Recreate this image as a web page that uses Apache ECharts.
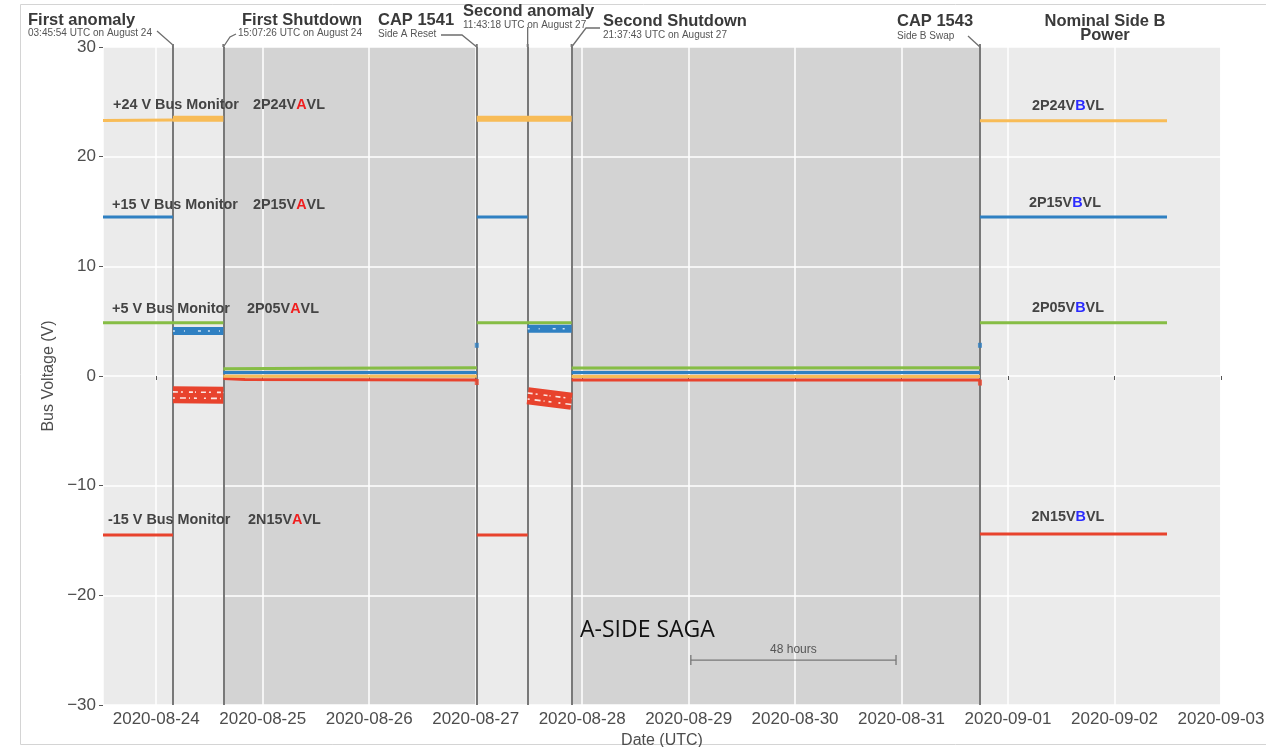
<!DOCTYPE html>
<html><head><meta charset="utf-8">
<script src="https://cdn.jsdelivr.net/npm/echarts@6/dist/echarts.min.js"></script>
<style>html,body{margin:0;padding:0;background:#fff}#c{width:1266px;height:747px}</style>
</head><body><div id="c"></div>
<script>
// ---------- data ----------
const xRange = ['2020-08-23T12:00:00Z', '2020-09-03T00:00:00Z'];
const yRange = [-30, 30];
const eventTimes = ['2020-08-24T03:45:54Z','2020-08-24T15:07:26Z','2020-08-27T00:15:00Z','2020-08-27T11:43:18Z','2020-08-27T21:37:43Z','2020-08-31T17:40:00Z'];
const eventTitles = ['First anomaly','First Shutdown','CAP 1541','Second anomaly','Second Shutdown','CAP 1543'];
const eventSubtitles = ['03:45:54 UTC on August 24','15:07:26 UTC on August 24','Side A Reset','11:43:18 UTC on August 27','21:37:43 UTC on August 27','Side B Swap'];
const dataStart = '2020-08-23T12:00:00Z';
const dataEnd = '2020-09-02T11:50:00Z';
const bracketTimes = ['2020-08-29T00:30:00Z','2020-08-30T22:45:00Z'];
const bracketValue = -25.9;

const ms = s => Date.parse(s);
const [A1,S1,R1,A2,S2,R2] = eventTimes.map(ms);
const T0 = ms(dataStart), TE = ms(dataEnd);

// +24 V bus (2P24VxVL)
const p24Line = [[[T0,23.3],[A1,23.35]], [[S1,-0.02],[R1,-0.02]], [[S2,-0.04],[R2,-0.04]], [[R2,23.28],[TE,23.28]]];
const p24Band = [[[A1,23.45],[S1,23.45]], [[R1,23.45],[S2,23.45]]];
// +15 V bus (2P15VxVL)
const p15Line = [[[T0,14.5],[A1,14.5]], [[S1,0.32],[R1,0.32]], [[R1,14.5],[A2,14.5]], [[S2,0.32],[R2,0.32]], [[R2,14.5],[TE,14.5]]];
const p15Band = [[[A1,4.1],[S1,4.1]], [[A2,4.3],[S2,4.3]]];
const p15Spikes = [[R1,2.8],[R2,2.8]];
// +5 V bus (2P05VxVL)
const p05Line = [[[T0,4.85],[S1,4.85]], [[S1,0.65],[ms('2020-08-25T12:00:00Z'),0.7],[R1,0.75]], [[R1,4.85],[S2,4.85]], [[S2,0.72],[R2,0.75]], [[R2,4.86],[TE,4.86]]];
// -15 V bus (2N15VxVL)
const n15Line = [[[T0,-14.5],[A1,-14.5]], [[S1,-0.22],[ms('2020-08-24T20:00:00Z'),-0.33],[R1,-0.36]], [[R1,-14.5],[A2,-14.5]], [[S2,-0.36],[R2,-0.36]], [[R2,-14.4],[TE,-14.4]]];
const n15Band = [[[A1,-1.7],[S1,-1.75]], [[A2,-1.8],[S2,-2.3]]];
const n15Spikes = [[R1,-0.55],[R2,-0.6]];

// ---------- chart ----------
const colors = {p24:'#f8bc57', p15:'#2f80c2', p05:'#86bd45', n15:'#e8432d'};
const joinSegs = segs => segs.flatMap((s,i) => i ? [[s[0][0],'-'], ...s] : s);
const lineSeries = (data, color, width, z, extra) => Object.assign({
  type:'line', data: joinSegs(data), showSymbol:false, symbol:'none', silent:true, z: z||5,
  lineStyle:{color, width, cap:'butt'}, itemStyle:{color}, connectNulls:false, animation:false
}, extra||{});

const chart = echarts.init(document.getElementById('c'), null, {renderer:'canvas'});
const FONT = 'Liberation Sans';
const option = {
  animation:false,
  useUTC:true,
  backgroundColor:'#ffffff',
  grid:{left:103, right:45, top:47, bottom:42, show:true, backgroundColor:'#ebebeb', borderWidth:0, containLabel:false, outerBoundsMode:'none'},
  xAxis:{
    type:'time', min:ms(xRange[0]), max:ms(xRange[1]), minInterval:864e5, maxInterval:864e5, splitNumber:11, z:2,
    axisLine:{show:false}, axisTick:{show:true, length:4, lineStyle:{color:'#555'}},
    axisLabel:{formatter:'{yyyy}-{MM}-{dd}', color:'#4d4d4d', fontSize:17, fontFamily:FONT, margin:6, hideOverlap:false},
    splitLine:{show:true, lineStyle:{color:'#ffffff', width:1.5}},
    name:'Date (UTC)', nameLocation:'middle', nameGap:26, nameTextStyle:{color:'#4d4d4d', fontSize:16, fontFamily:FONT}
  },
  yAxis:{
    type:'value', min:yRange[0], max:yRange[1], interval:10, z:2,
    axisLine:{show:false}, axisTick:{show:true, length:4, lineStyle:{color:'#555'}},
    axisLabel:{formatter:v => v < 0 ? '\u2212' + Math.abs(v) : String(v), color:'#4d4d4d', fontSize:17, fontFamily:FONT, margin:7},
    splitLine:{show:true, lineStyle:{color:'#ffffff', width:1.5}},
    name:'Bus Voltage (V)', nameLocation:'middle', nameGap:41, nameTextStyle:{color:'#4d4d4d', fontSize:16, fontFamily:FONT}
  },
  series:[
    {type:'line', data:[], z:1, silent:true,
     markArea:{silent:true, itemStyle:{color:'#d3d3d3'}, data:[[{xAxis:S1},{xAxis:R1}],[{xAxis:S2},{xAxis:R2}]]}},
    lineSeries(p05Line, colors.p05, 3),
    lineSeries(p15Line, colors.p15, 3),
    lineSeries(p15Band, colors.p15, 8),
    lineSeries(p15Band, '#bcd8ef', 1.5, 6, {lineStyle:{color:'#cfe2f3', width:1.5, type:[2,9,1,13,3,7]}}),
    lineSeries(n15Line, colors.n15, 3),
    lineSeries(n15Band, colors.n15, 17),
    lineSeries(n15Band.map(s => s.map(p => [p[0], p[1]+0.25])), '#fbe0db', 1.5, 6, {lineStyle:{color:'#fbe6e2', width:1.6, type:[5,3,2,6,4,2,1,5]}}),
    lineSeries(n15Band.map(s => s.map(p => [p[0], p[1]-0.3])), '#fbe0db', 1.5, 6, {lineStyle:{color:'#fbe6e2', width:1.6, type:[2,5,6,3,1,4,3,7]}}),
    lineSeries(p24Line, colors.p24, 3, 6),
    lineSeries(p24Band, colors.p24, 6, 6),
    {type:'scatter', data:p15Spikes, symbol:'rect', symbolSize:[4,5], itemStyle:{color:colors.p15}, z:5, silent:true},
    {type:'scatter', data:n15Spikes, symbol:'rect', symbolSize:[4,6], itemStyle:{color:colors.n15}, z:5, silent:true},
    {type:'line', data:[], z:7, silent:true,
     markLine:{silent:true, symbol:'none', animation:false, label:{show:false},
       lineStyle:{color:'#787878', width:2, type:'solid'},
       data:eventTimes.map(t => ({xAxis:ms(t)}))}}
  ]
};
chart.setOption(option);

// ---------- annotations ----------
const px = (t, v) => chart.convertToPixel({gridIndex:0}, [t, v]);
const ex = eventTimes.map(t => px(ms(t), 0)[0]);
const gridTop = px(ms(xRange[0]), yRange[1])[1];
const g = [];
const txt = (text, x, y, size, weight, fill, align, family, rich) => g.push({
  type:'text', silent:true, z:20,
  style:{text, x, y, fontSize:size, fontWeight:weight||'normal', fontFamily:family||FONT, fill:fill||'#3a3a3a',
         align:align||'left', verticalAlign:'middle', rich:rich}
});
const poly = (pts, color, w) => g.push({type:'polyline', silent:true, z:20, shape:{points:pts}, style:{stroke:color||'#6e6e6e', lineWidth:w||1.3, fill:null}});

g.push({type:'rect', silent:true, z:0, shape:{x:20.5, y:4.5, width:1260, height:740}, style:{stroke:'#d4d4d4', lineWidth:1, fill:null}});

const titleX = [28, 242, 378, 463, 603, 897];
const titleY = [20, 20, 20, 11, 21, 21];
const subX = [28, 238, 378, 463, 603, 897];
const subY = [33, 33, 34, 25, 35, 36];
eventTitles.forEach((t,i) => txt(t, titleX[i], titleY[i], 16.5, 'bold', '#3a3a3a'));
eventSubtitles.forEach((t,i) => txt(t, subX[i], subY[i], 10, 'normal', '#555'));
txt('Nominal Side B', 1105, 21, 16.5, 'bold', '#3a3a3a', 'center');
txt('Power', 1105, 35, 16.5, 'bold', '#3a3a3a', 'center');

poly([[157,31],[ex[0],45],[ex[0],gridTop]]);
poly([[236,34],[230,37],[ex[1],gridTop]]);
poly([[441,35],[462,35],[ex[2],gridTop]]);
poly([[ex[3],27],[ex[3],gridTop]]);
poly([[600,28],[586,28],[ex[4],gridTop]]);
poly([[968,36],[ex[5],gridTop]]);
[0,1,2,3,4,5].forEach(i => poly([[ex[i],gridTop-3],[ex[i],gridTop]], '#787878', 2));

const lblRich = c => ({h:{fill:c, fontSize:14.4, fontWeight:'bold', fontFamily:FONT}});
const LBL = 14.4;
txt('+24 V Bus Monitor', 113, 105, LBL, 'bold', '#444');
txt('2P24V{h|A}VL', 253, 105, LBL, 'bold', '#444', 'left', FONT, lblRich('#f01e1e'));
txt('+15 V Bus Monitor', 112, 205, LBL, 'bold', '#444');
txt('2P15V{h|A}VL', 253, 205, LBL, 'bold', '#444', 'left', FONT, lblRich('#f01e1e'));
txt('+5 V Bus Monitor', 112, 309, LBL, 'bold', '#444');
txt('2P05V{h|A}VL', 247, 309, LBL, 'bold', '#444', 'left', FONT, lblRich('#f01e1e'));
txt('-15 V Bus Monitor', 108, 520, LBL, 'bold', '#444');
txt('2N15V{h|A}VL', 248, 520, LBL, 'bold', '#444', 'left', FONT, lblRich('#f01e1e'));
txt('2P24V{h|B}VL', 1068, 106, LBL, 'bold', '#444', 'center', FONT, lblRich('#2a2aff'));
txt('2P15V{h|B}VL', 1065, 203, LBL, 'bold', '#444', 'center', FONT, lblRich('#2a2aff'));
txt('2P05V{h|B}VL', 1068, 308, LBL, 'bold', '#444', 'center', FONT, lblRich('#2a2aff'));
txt('2N15V{h|B}VL', 1068, 517, LBL, 'bold', '#444', 'center', FONT, lblRich('#2a2aff'));

txt('A-SIDE SAGA', 580, 630, 23, 'normal', '#111', 'left', 'Open Sans');

const b0 = px(ms(bracketTimes[0]), bracketValue), b1 = px(ms(bracketTimes[1]), bracketValue);
poly([[b0[0],b0[1]],[b1[0],b1[1]]], '#777', 1.3);
poly([[b0[0],b0[1]-5],[b0[0],b0[1]+5]], '#777', 1.3);
poly([[b1[0],b1[1]-5],[b1[0],b1[1]+5]], '#777', 1.3);
txt('48 hours', (b0[0]+b1[0])/2, b0[1]-10, 12, 'normal', '#555', 'center');

chart.setOption({graphic:{elements:g}});
</script>
</body></html>
